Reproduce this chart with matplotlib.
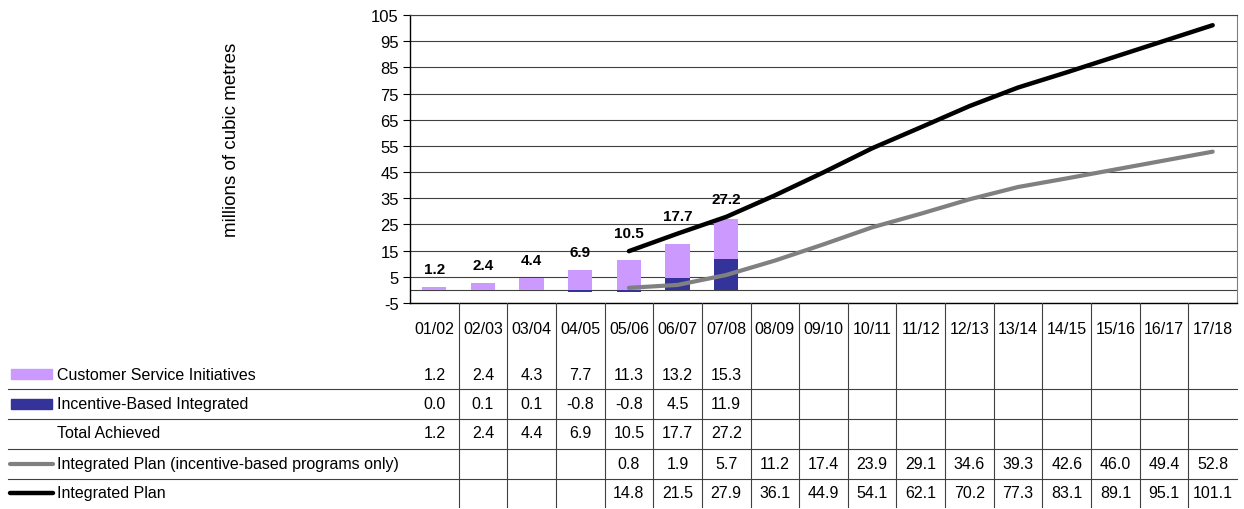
import matplotlib
matplotlib.use("Agg")
import matplotlib.pyplot as plt
import numpy as np
from matplotlib.patches import Rectangle

plt.rcParams['font.family'] = ['Liberation Sans', 'DejaVu Sans']
plt.rcParams['axes.unicode_minus'] = False

# ---- data -------------------------------------------------------------
years = ["01/02", "02/03", "03/04", "04/05", "05/06", "06/07", "07/08", "08/09",
         "09/10", "10/11", "11/12", "12/13", "13/14", "14/15", "15/16", "16/17", "17/18"]
customer_service = [1.2, 2.4, 4.3, 7.7, 11.3, 13.2, 15.3]
incentive_based = [0.0, 0.1, 0.1, -0.8, -0.8, 4.5, 11.9]
total_achieved = [1.2, 2.4, 4.4, 6.9, 10.5, 17.7, 27.2]
plan_start = 4  # plans begin in 05/06
plan_incentive = [0.8, 1.9, 5.7, 11.2, 17.4, 23.9, 29.1, 34.6, 39.3, 42.6, 46.0, 49.4, 52.8]
plan_integrated = [14.8, 21.5, 27.9, 36.1, 44.9, 54.1, 62.1, 70.2, 77.3, 83.1, 89.1, 95.1, 101.1]

label_csi = "Customer Service Initiatives"
label_ibi = "Incentive-Based Integrated"
label_tot = "Total Achieved"
label_pi = "Integrated Plan (incentive-based programs only)"
label_plan = "Integrated Plan"
y_label = "millions of cubic metres"

# ---- style -------------------------------------------------------------
C_LIGHT = "#CC99FF"
C_DARK = "#333399"
C_GRAY = "#808080"
C_GRID = "#404040"
FS_TICK = 12
FS_TAB = 11.5
FS_VAL = 11

W, H = 1244, 510
fig = plt.figure(figsize=(W / 100, H / 100), dpi=100)

# plot area in pixel terms
L, R, T, B = 410, 1237, 16, 304
n = len(years)
colw = (R - L) / n

ax = fig.add_axes([L / W, (H - B) / H, (R - L) / W, (B - T) / H])
ax.set_xlim(-0.5, n - 0.5)
ax.set_ylim(-5, 105)
ax.set_yticks(np.arange(-5, 106, 10))
ax.set_xticks([])
ax.tick_params(axis='y', length=5, width=0.8, pad=3, labelsize=FS_TICK)
ax.yaxis.grid(True, color=C_GRID, lw=0.8)
ax.set_axisbelow(True)
ax.axhline(0, color=C_GRID, lw=0.8, zorder=1)
for s in ("left", "bottom"):
    ax.spines[s].set_color("black")
    ax.spines[s].set_linewidth(1.0)
ax.spines["top"].set_color(C_GRID)
ax.spines["top"].set_linewidth(0.8)
ax.spines["right"].set_color(C_GRAY)
ax.spines["right"].set_linewidth(0.8)

xa = np.arange(len(customer_service))
inc = np.array(incentive_based)
ax.bar(xa, inc, width=0.5, color=C_DARK, zorder=2)
ax.bar(xa, customer_service, bottom=np.maximum(inc, 0), width=0.5, color=C_LIGHT, zorder=2)

xp = np.arange(plan_start, plan_start + len(plan_integrated))
ax.plot(xp, plan_incentive, color=C_GRAY, lw=3.0, solid_capstyle='round', zorder=3)
ax.plot(xp, plan_integrated, color="black", lw=3.2, solid_capstyle='round', zorder=3)

# value labels above each achieved bar, clear of the plan line
for i, tot in enumerate(total_achieved):
    top = max(inc[i], 0) + customer_service[i]
    if i >= plan_start:
        top = max(top, plan_integrated[i - plan_start])
    ax.annotate(f"{tot:.1f}", (i, top), xytext=(0, 13), textcoords="offset points",
                ha="center", va="center", fontsize=FS_VAL, fontweight="bold", zorder=4)

fig.text(232 / W, 1 - 140 / H, y_label, rotation=90, ha="center", va="center", fontsize=13.5)

# ---- data table ------------------------------------------------------------
tab = fig.add_axes([0, 0, 1, (H - B) / H])
tab.set_xlim(-0.5 - L / colw, n - 0.5 + (W - R) / colw)
tab.set_ylim(H, B)
tab.axis("off")


def px(p):
    return -0.5 + (p - L) / colw


for i, yr in enumerate(years):
    tab.text(i, 329, yr, ha="center", va="center", fontsize=FS_TAB)

row_y = [375, 405, 434, 465, 494]
rows = [
    (customer_service, 0),
    (incentive_based, 0),
    (total_achieved, 0),
    (plan_incentive, plan_start),
    (plan_integrated, plan_start),
]
for (vals, start), y in zip(rows, row_y):
    for j, v in enumerate(vals):
        tab.text(start + j, y, f"{v:.1f}", ha="center", va="center", fontsize=FS_TAB)

for y in [390, 420, 450, 480]:
    tab.plot([px(8), px(R)], [y, y], color=C_GRID, lw=0.8)
for k in range(n - 1):
    tab.plot([k + 0.5, k + 0.5], [B, 508], color=C_GRID, lw=0.8)

labels = [label_csi, label_ibi, label_tot, label_pi, label_plan]
for lab, y in zip(labels, row_y):
    tab.text(px(57), y, lab, ha="left", va="center", fontsize=FS_TAB)

tab.add_patch(Rectangle((px(11), row_y[0] - 5), px(52) - px(11), 10, color=C_LIGHT))
tab.add_patch(Rectangle((px(11), row_y[1] - 5), px(52) - px(11), 10, color=C_DARK))
tab.plot([px(10), px(53)], [row_y[3], row_y[3]], color=C_GRAY, lw=3.0, solid_capstyle='round')
tab.plot([px(10), px(53)], [row_y[4], row_y[4]], color="black", lw=3.2, solid_capstyle='round')

fig.savefig("out.png", dpi=100)
